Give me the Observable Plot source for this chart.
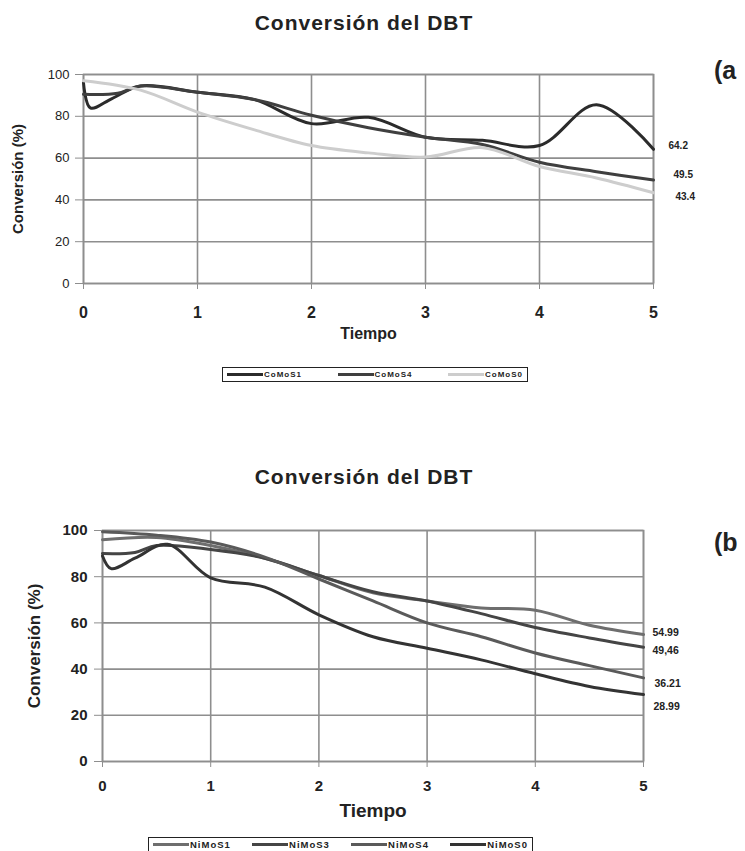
<!DOCTYPE html>
<html><head><meta charset="utf-8">
<script src="https://cdn.jsdelivr.net/npm/d3@7"></script>
<script src="https://cdn.jsdelivr.net/npm/@observablehq/plot@0.6"></script>
<style>
body{margin:0;background:#fff;font-family:"Liberation Sans",Arial,sans-serif;}
#root{position:relative;width:745px;height:851px;overflow:hidden;background:#fff;}
.title{left:0;width:728px;text-align:center;font-weight:bold;font-size:21px;letter-spacing:1px;color:#222;line-height:1;}
.tag{font-weight:bold;font-size:25px;color:#222;line-height:1;}
.legend{border:1px solid #222;display:flex;align-items:center;justify-content:space-between;box-sizing:border-box;padding:0 4px;background:#fff;line-height:1;}
.item{display:flex;align-items:center;font-weight:bold;color:#222;}
.sw{display:inline-block;width:36px;height:0;border-top:3px solid #333;margin-right:1px;}
svg{overflow:visible;}
</style></head><body><div id="root"></div>
<script>
// ---------- Chart (a): CoMoS ----------
const seriesA = ["CoMoS1", "CoMoS4", "CoMoS0"];
const colorsA = ["#2b2b2b", "#3f3f3f", "#cdcdcd"];
const timeCoMoS1 = [0, 0.06, 0.25, 0.5, 1, 1.5, 2, 2.5, 3, 3.5, 4, 4.5, 5];
const convCoMoS1 = [96, 84, 88.5, 94.5, 91.5, 88, 76.5, 79.5, 70, 68.5, 66, 85.5, 64.2];
const timeCoMoS4 = [0, 0.3, 0.5, 1, 1.5, 2, 2.5, 3, 3.5, 4, 4.5, 5];
const convCoMoS4 = [90.5, 91, 94.5, 91.5, 88, 80.5, 74.5, 70, 66.5, 58, 53.5, 49.5];
const timeCoMoS0 = [0, 0.5, 1, 1.5, 2, 2.5, 3, 3.5, 4, 4.5, 5];
const convCoMoS0 = [97, 92.5, 82, 73.5, 66, 62.5, 60.5, 65, 56, 50.5, 43.4];
const endLabelsA = ["64.2", "49.5", "43.4"];

// ---------- Chart (b): NiMoS ----------
const seriesB = ["NiMoS1", "NiMoS3", "NiMoS4", "NiMoS0"];
const colorsB = ["#6e6e6e", "#454545", "#5a5a5a", "#333333"];
const timeNiMoS1 = [0, 0.5, 1, 1.5, 2, 2.5, 3, 3.5, 4, 4.5, 5];
const convNiMoS1 = [96, 97, 93.5, 88, 80.5, 73, 69.5, 66.5, 65.5, 59, 54.99];
const timeNiMoS3 = [0, 0.3, 0.5, 1, 1.5, 2, 2.5, 3, 3.5, 4, 4.5, 5];
const convNiMoS3 = [90, 90.5, 93.5, 91.8, 88, 80.5, 73.5, 69.5, 64, 58, 53.5, 49.46];
const timeNiMoS4 = [0, 0.5, 1, 1.5, 2, 2.5, 3, 3.5, 4, 4.5, 5];
const convNiMoS4 = [99.5, 98, 95, 88.5, 79, 69.5, 60, 54, 47, 41.5, 36.21];
const timeNiMoS0 = [0, 0.08, 0.3, 0.6, 1, 1.5, 2, 2.5, 3, 3.5, 4, 4.5, 5];
const convNiMoS0 = [89, 83.5, 88, 94, 79.5, 75.5, 63.5, 54, 49, 44, 38, 32.5, 28.99];
const endLabelsB = ["54.99", "49,46", "36.21", "28.99"];

const xTicks = [0, 1, 2, 3, 4, 5];
const yTicks = [0, 20, 40, 60, 80, 100];

function rows(name, t, v) { return t.map((x, i) => ({serie: name, t: x, v: v[i]})); }

const dataA = [
  ...rows("CoMoS1", timeCoMoS1, convCoMoS1),
  ...rows("CoMoS4", timeCoMoS4, convCoMoS4),
  ...rows("CoMoS0", timeCoMoS0, convCoMoS0)
];
const dataB = [
  ...rows("NiMoS1", timeNiMoS1, convNiMoS1),
  ...rows("NiMoS3", timeNiMoS3, convNiMoS3),
  ...rows("NiMoS4", timeNiMoS4, convNiMoS4),
  ...rows("NiMoS0", timeNiMoS0, convNiMoS0)
];
const lastA = [convCoMoS1, convCoMoS4, convCoMoS0].map((v, i) => ({t: 5, v: v[v.length - 1], label: endLabelsA[i]}));
const lastB = [convNiMoS1, convNiMoS3, convNiMoS4, convNiMoS0].map((v, i) => ({t: 5, v: v[v.length - 1], label: endLabelsB[i]}));

const root = document.getElementById("root");
const grid = "#8e8e8e";
const fmt = d => String(d);

function add(el, css) { el.style.position = "absolute"; Object.assign(el.style, css); root.appendChild(el); return el; }

// ---- chart A ----
const tA = document.createElement("div"); tA.className = "title"; tA.textContent = "Conversión del DBT";
add(tA, {top: "12px"});
const tagA = document.createElement("div"); tagA.className = "tag"; tagA.textContent = "(a";
add(tagA, {left: "714px", top: "58px"});

const lblOffA = [[15, -4], [20, -5], [22, 4]];
const plotA = Plot.plot({
  width: 745, height: 300,
  marginTop: 24, marginBottom: 67, marginLeft: 83, marginRight: 92,
  x: {domain: [0, 5]},
  y: {domain: [0, 100]},
  color: {domain: seriesA, range: colorsA},
  style: {fontFamily: "'Liberation Sans', Arial, sans-serif", color: "#222", background: "transparent"},
  marks: [
    Plot.gridY(yTicks, {stroke: grid, strokeOpacity: 1, strokeWidth: 1.6}),
    Plot.gridX(xTicks, {stroke: grid, strokeOpacity: 1, strokeWidth: 1.6}),
    Plot.frame({stroke: grid, strokeWidth: 1.6}),
    Plot.line(dataA, {x: "t", y: "v", z: "serie", stroke: "serie", strokeWidth: 3, curve: "catmull-rom"}),
    Plot.axisX(xTicks, {tickSize: 6, tickPadding: 17, fontSize: 16, fontWeight: "bold", label: null, stroke: grid, tickFormat: fmt}),
    Plot.axisY(yTicks, {tickSize: 8, tickPadding: 6, fontSize: 13, label: null, stroke: grid, tickFormat: fmt}),
    Plot.text(["Tiempo"], {frameAnchor: "bottom", textAnchor: "middle", lineAnchor: "middle", dy: 50, fontSize: 16, fontWeight: "bold", letterSpacing: "1px"}),
    Plot.text(["Conversión (%)"], {frameAnchor: "left", textAnchor: "middle", lineAnchor: "middle", rotate: -90, dx: -65, fontSize: 15, fontWeight: "bold"}),
    ...lastA.map((d, i) => Plot.text([d], {x: "t", y: "v", text: "label", textAnchor: "start", dx: lblOffA[i][0], dy: lblOffA[i][1], fontSize: 10, fontWeight: "bold"}))
  ]
});
add(plotA, {left: "0px", top: "50px"});

const legA = document.createElement("div"); legA.className = "legend";
add(legA, {left: "222px", top: "367px", width: "306px", height: "15px", fontSize: "8px", letterSpacing: "1px"});
seriesA.forEach((s, i) => {
  const it = document.createElement("span"); it.className = "item";
  const sw = document.createElement("span"); sw.className = "sw"; sw.style.borderTopColor = colorsA[i];
  it.appendChild(sw); it.appendChild(document.createTextNode(s)); legA.appendChild(it);
});

// ---- chart B ----
const tB = document.createElement("div"); tB.className = "title"; tB.textContent = "Conversión del DBT";
add(tB, {top: "466px"});
const tagB = document.createElement("div"); tagB.className = "tag"; tagB.textContent = "(b";
add(tagB, {left: "714px", top: "530px"});

const lblOffB = [[9, -2], [9, 3], [11, 6], [10, 12]];
const plotB = Plot.plot({
  width: 745, height: 330,
  marginTop: 30, marginBottom: 69, marginLeft: 102, marginRight: 102,
  x: {domain: [0, 5]},
  y: {domain: [0, 100]},
  color: {domain: seriesB, range: colorsB},
  style: {fontFamily: "'Liberation Sans', Arial, sans-serif", color: "#222", background: "transparent"},
  marks: [
    Plot.gridY(yTicks, {stroke: grid, strokeOpacity: 1, strokeWidth: 1.6}),
    Plot.gridX(xTicks, {stroke: grid, strokeOpacity: 1, strokeWidth: 1.6}),
    Plot.frame({stroke: grid, strokeWidth: 1.6}),
    Plot.line(dataB, {x: "t", y: "v", z: "serie", stroke: "serie", strokeWidth: 3, curve: "catmull-rom"}),
    Plot.axisX(xTicks, {tickSize: 6, tickPadding: 13, fontSize: 15, fontWeight: "bold", label: null, stroke: grid, tickFormat: fmt}),
    Plot.axisY(yTicks, {tickSize: 8, tickPadding: 7, fontSize: 15, fontWeight: "bold", label: null, stroke: grid, tickFormat: fmt}),
    Plot.text(["Tiempo"], {frameAnchor: "bottom", textAnchor: "middle", lineAnchor: "middle", dy: 49, fontSize: 19, fontWeight: "bold", letterSpacing: "1px"}),
    Plot.text(["Conversión (%)"], {frameAnchor: "left", textAnchor: "middle", lineAnchor: "middle", rotate: -90, dx: -68, fontSize: 17, fontWeight: "bold"}),
    ...lastB.map((d, i) => Plot.text([d], {x: "t", y: "v", text: "label", textAnchor: "start", dx: lblOffB[i][0], dy: lblOffB[i][1], fontSize: 10.5, fontWeight: "bold"}))
  ]
});
add(plotB, {left: "0px", top: "500px"});

const legB = document.createElement("div"); legB.className = "legend";
add(legB, {left: "148px", top: "837px", width: "385px", height: "15px", fontSize: "9.5px", letterSpacing: "1px"});
seriesB.forEach((s, i) => {
  const it = document.createElement("span"); it.className = "item";
  const sw = document.createElement("span"); sw.className = "sw"; sw.style.borderTopColor = colorsB[i];
  it.appendChild(sw); it.appendChild(document.createTextNode(s)); legB.appendChild(it);
});
</script></body></html>
